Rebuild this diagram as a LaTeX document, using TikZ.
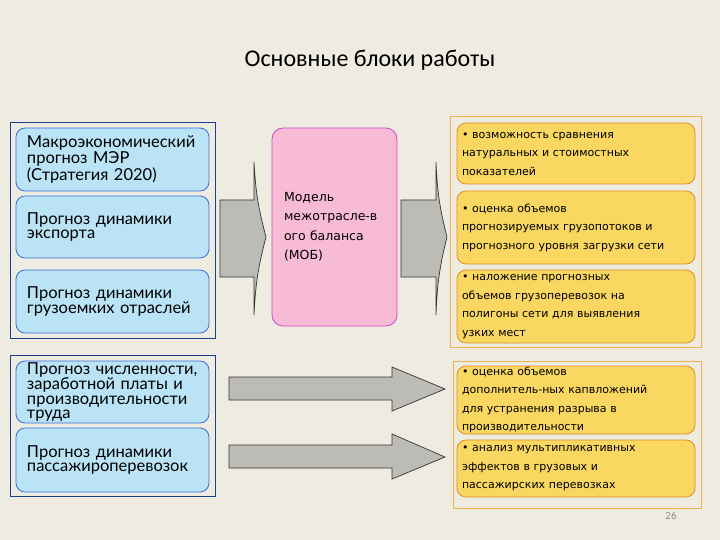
\documentclass[tikz,border=0pt]{standalone}
\usepackage{fontspec}
\setmainfont{Carlito}
\newfontfamily\latofont{Lato}
\newfontfamily\dvsfont{DejaVu Sans}
\definecolor{bgc}{HTML}{EEEBE1}
\definecolor{lfill}{HTML}{BAE4F5}
\definecolor{lline}{HTML}{3B6FD6}
\definecolor{lout}{HTML}{1C3F8F}
\definecolor{pfill}{HTML}{F8BBD6}
\definecolor{pline}{HTML}{CC44CC}
\definecolor{yfill}{HTML}{F9D761}
\definecolor{yline}{HTML}{E48A2A}
\definecolor{yout}{HTML}{F2B04E}
\definecolor{afill}{HTML}{BDBBB5}
\definecolor{aline}{HTML}{333333}
\begin{document}
\begin{tikzpicture}[x=1pt,y=-1pt,
  lbox/.style={draw=lline, fill=lfill, rounded corners=9pt, line width=0.8pt,
    font=\latofont\fontsize{16.5}{14.5}\selectfont, align=left,
    inner xsep=11pt, inner ysep=0pt, text width=171pt, minimum width=193pt},
  loutbox/.style={draw=lout, line width=0.9pt, inner sep=0pt},
  ybox/.style={draw=yline, fill=yfill, rounded corners=9pt, line width=0.8pt,
    font=\dvsfont\fontsize{11}{18.5}\selectfont, align=left,
    inner xsep=5pt, inner ysep=0pt, text width=228pt, minimum width=238pt},
  youtbox/.style={draw=yout, line width=0.9pt, inner sep=0pt},
  mobbox/.style={draw=pline, fill=pfill, rounded corners=11pt, line width=0.8pt,
    font=\dvsfont\fontsize{12.5}{19.5}\selectfont, align=left,
    inner xsep=12pt, inner ysep=0pt, text width=101pt, minimum width=125pt},
  garrow/.style={draw=aline, fill=afill, line width=0.7pt, line join=miter}
]
\fill[bgc] (0,0) rectangle (720,540);
\useasboundingbox (0,0) rectangle (720,540);

\node[font=\fontsize{24}{28}\selectfont] (title) at (370,60) {Основные блоки работы};

% left groups
\node[loutbox, minimum width=205pt, minimum height=216pt] (L1) at (112.5,230) {};
\node[lbox, minimum height=63pt] (m1) at (112.5,159.5) {Макроэкономический\\прогноз МЭР\\(Стратегия 2020)};
\node[lbox, minimum height=62pt] (m2) at (112.5,227) {Прогноз динамики\\экспорта};
\node[lbox, minimum height=63pt] (m3) at (112.5,301.5) {Прогноз динамики\\грузоемких отраслей};

\node[loutbox, minimum width=205pt, minimum height=141pt] (L2) at (112.5,425.5) {};
\node[lbox, minimum height=62pt] (m4) at (112.5,392) {Прогноз численности,\\заработной платы и\\производительности\\труда};
\node[lbox, minimum height=64pt] (m5) at (112.5,460) {Прогноз динамики\\пассажироперевозок};

% MOB
\node[mobbox, minimum height=198pt] (mob) at (334.5,227) {Модель\\межотрасле-в\\ого баланса\\(МОБ)};

% right groups
\node[youtbox, minimum width=251pt, minimum height=231pt] (R1) at (575.5,231.5) {};
\node[ybox, minimum height=61pt] (r1) at (576,153.5) {• возможность сравнения\\натуральных и стоимостных\\показателей};
\node[ybox, minimum height=73pt] (r2) at (576,227.5) {• оценка объемов\\прогнозируемых грузопотоков и\\прогнозного уровня загрузки сети};
\node[ybox, minimum height=73pt] (r3) at (576,306.5) {• наложение прогнозных\\объемов грузоперевозок на\\полигоны сети для выявления\\узких мест};

\node[youtbox, minimum width=248pt, minimum height=147pt] (R2) at (577,434.5) {};
\node[ybox, minimum height=68pt] (r4) at (576,400) {• оценка объемов\\дополнитель-ных капвложений\\для устранения разрыва в\\производительности};
\node[ybox, minimum height=57pt] (r5) at (576,468.5) {• анализ мультипликативных\\эффектов в грузовых и\\пассажирских перевозках};

% big arrows
\draw[garrow] (220,200) -- (254,200) -- (254,162) to[bend right=6] (266,237) to[bend right=6] (254,315) -- (254,277) -- (220,277) -- cycle;
\draw[garrow] (401,200) -- (436,200) -- (436,162) to[bend right=6] (447,237) to[bend right=6] (436,315) -- (436,277) -- (401,277) -- cycle;

% lower arrows
\draw[garrow] (229,377) -- (392,377) -- (392,367) -- (445,389) -- (392,411) -- (392,400) -- (229,400) -- cycle;
\draw[garrow] (229,445) -- (392,445) -- (392,434) -- (445,457) -- (392,479) -- (392,468) -- (229,468) -- cycle;

\node[text=black!45, font=\fontsize{11}{13}\selectfont] (pg) at (671,516) {26};
\end{tikzpicture}
\end{document}
